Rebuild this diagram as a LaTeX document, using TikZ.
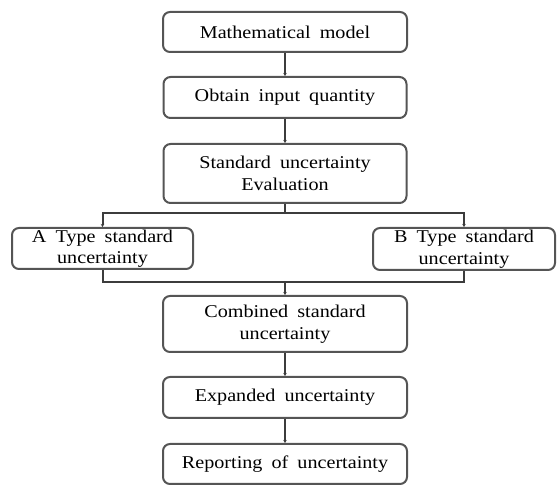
\documentclass[tikz,border=0pt]{standalone}
\usepackage{fontspec}
\setmainfont{Liberation Serif}[FakeStretch=1.12,WordSpace=1.8]
\usepackage{tikz}
\usetikzlibrary{positioning,calc,arrows.meta}
\definecolor{boxline}{RGB}{85, 85, 85}
\definecolor{linkline}{RGB}{60, 60, 60}

\begin{document}
\begin{tikzpicture}[x=1pt,y=-1pt,
    box/.style={draw=boxline,line width=2pt,rounded corners=7pt,fill=white,
      align=center,inner sep=0pt,font=\fontsize{18}{21.5}\selectfont},
    link/.style={draw=linkline,line width=2pt},
    linkarrow/.style={link,-{Stealth[length=3pt,width=3.5pt]}}]
  \useasboundingbox (0,0) rectangle (558,486);

  \node[box,minimum width=244pt,minimum height=40pt] (model) at (285,32) {Mathematical model};
  \node[box,minimum width=243pt,minimum height=41pt] (input) at (285,97.5) {Obtain input quantity};
  \node[box,minimum width=243pt,minimum height=59pt] (eval) at (285,173.5) {Standard uncertainty\\Evaluation};

  \node[box,minimum width=181pt,minimum height=41pt] (typeA) at (102.5,248.5) {A Type standard\\uncertainty};
  \node[box,minimum width=182pt,minimum height=42pt] (typeB) at (464,249) {B Type standard\\uncertainty};

  \node[box,minimum width=244pt,minimum height=56pt] (comb) at (285,324) {Combined standard\\uncertainty};
  \node[box,minimum width=244pt,minimum height=41pt] (expand) at (285,397.5) {Expanded uncertainty};
  \node[box,minimum width=244pt,minimum height=40pt] (report) at (285,464) {Reporting of uncertainty};

  \coordinate (split) at (285,213);
  \coordinate (merge) at (285,282);

  \draw[linkarrow] (model) -- (input);
  \draw[linkarrow] (input) -- (eval);
  \draw[link] (eval) -- (split);
  \draw[linkarrow] (split) -| (typeA);
  \draw[linkarrow] (split) -| (typeB);
  \draw[link] (typeA) |- (merge);
  \draw[link] (typeB) |- (merge);
  \draw[linkarrow] (merge) -- (comb);
  \draw[linkarrow] (comb) -- (expand);
  \draw[linkarrow] (expand) -- (report);
\end{tikzpicture}
\end{document}
